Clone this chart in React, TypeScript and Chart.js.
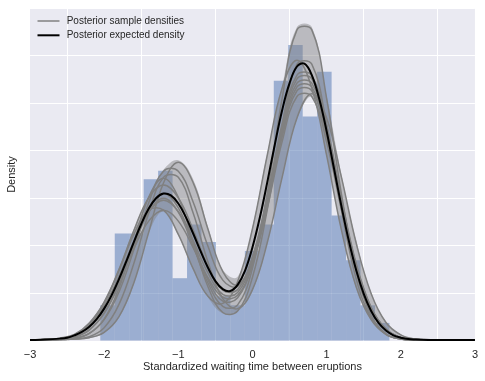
import { useEffect, useRef } from 'react';
import { Chart, registerables } from 'chart.js';

Chart.register(...registerables);

// ---------- data ----------
const X_TICKS = [-3, -2, -1, 0, 1, 2, 3];
const X_TICK_LABELS = ['\u22123', '\u22122', '\u22121', '0', '1', '2', '3'];
const Y_GRID = [0, 0.1, 0.2, 0.3, 0.4, 0.5, 0.6, 0.7];
const X_TITLE = 'Standardized waiting time between eruptions';
const Y_TITLE = 'Density';
const LEGEND_LABELS = ['Posterior sample densities', 'Posterior expected density'];

// histogram (20 bins, normalised)
const BIN_CENTERS = [
  -1.9545, -1.7595, -1.5646, -1.3696, -1.1747, -0.9797, -0.7848, -0.5899, -0.3949, -0.2,
  -0.005, 0.1899, 0.3849, 0.5798, 0.7748, 0.9697, 1.1646, 1.3596, 1.5545, 1.7495,
];
const BIN_DENSITY = [
  0.075, 0.226, 0.226, 0.34, 0.358, 0.132, 0.245, 0.208, 0.094, 0.075,
  0.189, 0.245, 0.547, 0.622, 0.472, 0.566, 0.264, 0.17, 0.075, 0.038,
];

// evaluation grid for sample densities and band
const GRID = [
  -3.0, -2.8, -2.6, -2.4, -2.2, -2.0, -1.8, -1.6, -1.4, -1.2, -1.0, -0.8, -0.6, -0.4, -0.2, 0.0,
  0.2, 0.4, 0.6, 0.8, 1.0, 1.2, 1.4, 1.6, 1.8, 2.0, 2.2, 2.4, 2.6, 2.8, 3.0,
];
const SAMPLE_1 = [0.002,0.003,0.004,0.009,0.024,0.058,0.118,0.199,0.271,0.300,0.271,0.199,0.122,0.073,0.076,0.153,0.311,0.510,0.654,0.654,0.510,0.309,0.146,0.054,0.015,0.004,0.002,0.002,0.002,0.002,0.002];
const SAMPLE_2 = [0.002,0.002,0.003,0.004,0.007,0.018,0.051,0.122,0.228,0.332,0.376,0.333,0.235,0.146,0.118,0.169,0.287,0.429,0.526,0.526,0.428,0.283,0.152,0.067,0.024,0.007,0.003,0.002,0.002,0.002,0.002];
const SAMPLE_3 = [0.002,0.002,0.003,0.006,0.016,0.045,0.103,0.192,0.290,0.357,0.357,0.292,0.199,0.128,0.115,0.176,0.301,0.449,0.551,0.551,0.448,0.296,0.159,0.070,0.025,0.007,0.003,0.002,0.002,0.002,0.002];
const SAMPLE_4 = [0.002,0.002,0.003,0.005,0.016,0.046,0.111,0.207,0.302,0.342,0.302,0.208,0.114,0.060,0.063,0.134,0.276,0.453,0.582,0.582,0.453,0.275,0.130,0.048,0.014,0.004,0.002,0.002,0.002,0.002,0.002];
const SAMPLE_5 = [0.002,0.003,0.006,0.014,0.038,0.082,0.150,0.232,0.301,0.328,0.301,0.234,0.158,0.107,0.108,0.176,0.305,0.456,0.559,0.558,0.454,0.300,0.162,0.071,0.025,0.007,0.003,0.002,0.002,0.002,0.002];
const SAMPLE_6 = [0.002,0.003,0.005,0.013,0.034,0.074,0.136,0.209,0.271,0.296,0.272,0.211,0.143,0.098,0.102,0.170,0.296,0.442,0.542,0.542,0.441,0.292,0.157,0.069,0.024,0.007,0.003,0.002,0.002,0.002,0.002];
const SAMPLE_7 = [0.002,0.002,0.004,0.012,0.035,0.080,0.148,0.224,0.275,0.275,0.224,0.152,0.094,0.079,0.125,0.236,0.391,0.532,0.590,0.532,0.390,0.233,0.113,0.045,0.014,0.004,0.002,0.002,0.002,0.002,0.002];
const SAMPLE_8 = [0.002,0.003,0.005,0.012,0.031,0.069,0.126,0.194,0.252,0.275,0.252,0.196,0.133,0.092,0.096,0.161,0.280,0.419,0.514,0.514,0.418,0.276,0.149,0.065,0.023,0.007,0.003,0.002,0.002,0.002,0.002];
const SAMPLE_9 = [0.002,0.002,0.003,0.004,0.009,0.028,0.077,0.163,0.268,0.344,0.344,0.269,0.166,0.089,0.068,0.108,0.207,0.344,0.469,0.520,0.469,0.344,0.205,0.100,0.039,0.013,0.004,0.002,0.002,0.002,0.002];
const SAMPLE_10 = [0.002,0.002,0.003,0.008,0.023,0.059,0.122,0.205,0.280,0.310,0.280,0.207,0.129,0.084,0.091,0.162,0.289,0.435,0.534,0.534,0.434,0.287,0.155,0.068,0.024,0.007,0.002,0.002,0.002,0.002,0.002];
const SAMPLES = [SAMPLE_1, SAMPLE_2, SAMPLE_3, SAMPLE_4, SAMPLE_5, SAMPLE_6, SAMPLE_7, SAMPLE_8, SAMPLE_9, SAMPLE_10];

const BAND_UPPER = [0.003,0.004,0.007,0.016,0.040,0.085,0.155,0.235,0.305,0.360,0.380,0.340,0.240,0.150,0.135,0.240,0.395,0.535,0.660,0.660,0.515,0.350,0.210,0.102,0.041,0.014,0.005,0.003,0.003,0.003,0.003];
const BAND_LOWER = [0.001,0.001,0.002,0.003,0.006,0.017,0.049,0.120,0.226,0.272,0.222,0.150,0.092,0.058,0.062,0.105,0.205,0.342,0.466,0.512,0.388,0.232,0.110,0.043,0.013,0.003,0.001,0.001,0.001,0.001,0.001];

// posterior expected density
const MEAN_GRID = [
  -3.0, -2.8, -2.6, -2.5, -2.4, -2.3, -2.2, -2.1, -2.0, -1.9, -1.8, -1.7, -1.6, -1.5, -1.4, -1.3,
  -1.2, -1.1, -1.0, -0.9, -0.8, -0.7, -0.6, -0.5, -0.4, -0.3, -0.2, -0.1, 0.0, 0.1, 0.2, 0.3,
  0.4, 0.5, 0.6, 0.7, 0.8, 0.9, 1.0, 1.1, 1.2, 1.3, 1.4, 1.5, 1.6, 1.7, 1.8, 1.9, 2.0, 2.1,
  2.2, 2.4, 2.6, 2.8, 3.0,
];
const MEAN_DENSITY = [
  0.002, 0.003, 0.005, 0.007, 0.012, 0.019, 0.030, 0.046, 0.068, 0.096, 0.130, 0.168, 0.208, 0.246, 0.278, 0.300,
  0.310, 0.306, 0.289, 0.261, 0.226, 0.189, 0.154, 0.126, 0.109, 0.105, 0.118, 0.148, 0.197, 0.260, 0.334, 0.412,
  0.485, 0.542, 0.577, 0.583, 0.559, 0.509, 0.441, 0.362, 0.283, 0.210, 0.148, 0.099, 0.063, 0.038, 0.022, 0.012, 0.007, 0.004,
  0.003, 0.002, 0.002, 0.002, 0.002,
];

// ---------- styles ----------
const FONT = "'Liberation Sans', Arial, sans-serif";
const TEXT_COLOR = '#262626';
const BAR_COLOR = 'rgba(76,114,176,0.5)';
const BAND_COLOR = 'rgba(128,128,128,0.45)';
const SAMPLE_COLOR = '#808080';
const MEAN_COLOR = '#000000';

const pts = (xs: number[], ys: number[]) => xs.map((x, i) => ({ x, y: ys[i] }));

const backgroundPlugin = {
  id: 'axesBackground',
  beforeDraw(chart: any) {
    const { ctx, chartArea } = chart;
    ctx.save();
    ctx.fillStyle = '#EAEAF2';
    ctx.fillRect(chartArea.left, chartArea.top, chartArea.right - chartArea.left, chartArea.bottom - chartArea.top);
    ctx.restore();
  },
};

const legendPlugin = {
  id: 'insideLegend',
  afterDraw(chart: any) {
    const { ctx, chartArea } = chart;
    const items = [
      { text: LEGEND_LABELS[0], color: SAMPLE_COLOR, width: 1.5 },
      { text: LEGEND_LABELS[1], color: MEAN_COLOR, width: 2 },
    ];
    ctx.save();
    ctx.font = `10px ${FONT}`;
    ctx.textBaseline = 'middle';
    ctx.textAlign = 'left';
    items.forEach((it, i) => {
      const y = chartArea.top + 13 + i * 14.3;
      const x0 = chartArea.left + 7.5;
      ctx.strokeStyle = it.color;
      ctx.lineWidth = it.width;
      ctx.beginPath();
      ctx.moveTo(x0, y);
      ctx.lineTo(x0 + 22, y);
      ctx.stroke();
      ctx.fillStyle = TEXT_COLOR;
      ctx.fillText(it.text, x0 + 29.2, y);
    });
    ctx.restore();
  },
};

export default function App() {
  const ref = useRef<HTMLCanvasElement | null>(null);

  useEffect(() => {
    if (!ref.current) return;
    Chart.defaults.font.family = FONT;
    const datasets: any[] = [];
    datasets.push({
      type: 'bar',
      label: 'hist',
      data: pts(BIN_CENTERS, BIN_DENSITY),
      backgroundColor: BAR_COLOR,
      borderWidth: 0,
      barPercentage: 1,
      categoryPercentage: 1,
      inflateAmount: 0,
      order: 20,
    });
    datasets.push({
      type: 'line',
      label: 'bandLower',
      data: pts(GRID, BAND_LOWER),
      borderWidth: 0,
      borderColor: 'rgba(0,0,0,0)',
      pointRadius: 0,
      tension: 0.4,
      fill: false,
      order: 15,
    });
    datasets.push({
      type: 'line',
      label: 'bandUpper',
      data: pts(GRID, BAND_UPPER),
      borderWidth: 0,
      borderColor: 'rgba(0,0,0,0)',
      backgroundColor: BAND_COLOR,
      pointRadius: 0,
      tension: 0.4,
      fill: '-1',
      order: 14,
    });
    SAMPLES.forEach((s, i) => {
      datasets.push({
        type: 'line',
        label: i === 0 ? LEGEND_LABELS[0] : 'sample' + i,
        data: pts(GRID, s),
        borderColor: SAMPLE_COLOR,
        borderWidth: 1.5,
        pointRadius: 0,
        tension: 0.4,
        fill: false,
        order: 5,
      });
    });
    datasets.push({
      type: 'line',
      label: LEGEND_LABELS[1],
      data: pts(MEAN_GRID, MEAN_DENSITY),
      borderColor: MEAN_COLOR,
      borderWidth: 2,
      pointRadius: 0,
      tension: 0.4,
      fill: false,
      order: 1,
    });

    const chart = new Chart(ref.current, {
      type: 'line',
      data: { datasets },
      options: {
        animation: false,
        responsive: false,
        devicePixelRatio: 1,
        events: [],
        layout: { padding: { left: 0, top: 8, right: 10, bottom: 0 } },
        plugins: { legend: { display: false }, tooltip: { enabled: false } },
        scales: {
          x: {
            type: 'linear',
            min: -3,
            max: 3,
            offset: false,
            afterBuildTicks: (scale: any) => {
              scale.ticks = X_TICKS.map((v) => ({ value: v }));
            },
            afterFit: (scale: any) => {
              scale.height = 40;
            },
            grid: { color: '#ffffff', lineWidth: 1, drawTicks: false },
            border: { display: false },
            ticks: {
              padding: 7,
              color: TEXT_COLOR,
              font: { size: 11, family: FONT },
              maxRotation: 0,
              autoSkip: false,
              callback: (_v: any, i: number) => X_TICK_LABELS[i],
            },
            title: {
              display: true,
              text: X_TITLE,
              color: TEXT_COLOR,
              font: { size: 11, family: FONT },
              padding: { top: 0, bottom: 7 },
            },
          },
          y: {
            type: 'linear',
            min: 0,
            max: 0.7,
            afterBuildTicks: (scale: any) => {
              scale.ticks = Y_GRID.map((v) => ({ value: v }));
            },
            afterFit: (scale: any) => {
              scale.width = 30;
            },
            grid: { color: '#ffffff', lineWidth: 1, drawTicks: false },
            border: { display: false },
            ticks: { display: false },
            title: {
              display: true,
              text: Y_TITLE,
              color: TEXT_COLOR,
              font: { size: 11, family: FONT },
              padding: { top: 5, bottom: 0 },
            },
          },
        },
      } as any,
      plugins: [backgroundPlugin, legendPlugin],
    });
    return () => chart.destroy();
  }, []);

  return (
    <div style={{ position: 'absolute', left: 0, top: 0, width: 485, height: 381, background: '#ffffff' }}>
      <canvas ref={ref} width={485} height={381} style={{ display: 'block' }} />
    </div>
  );
}
